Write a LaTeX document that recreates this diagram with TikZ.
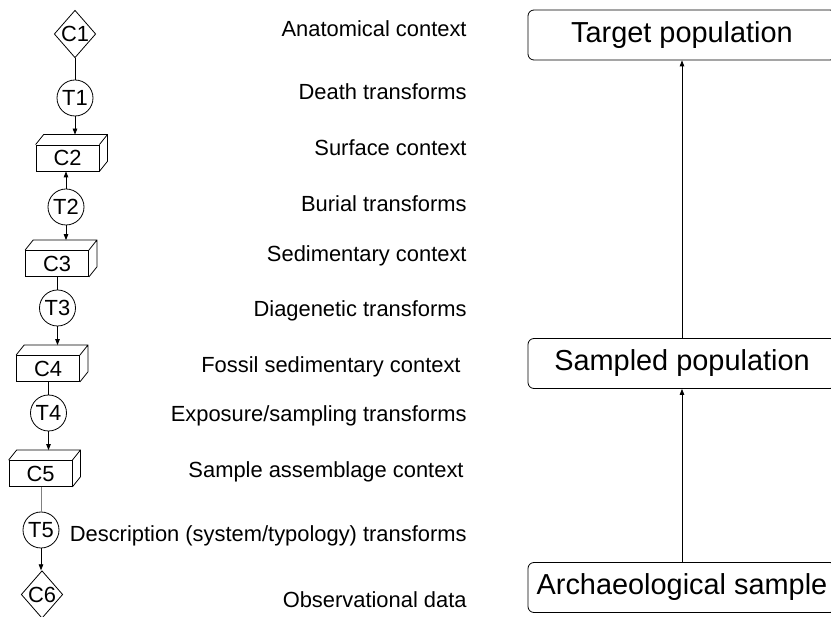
\documentclass[tikz,border=0pt]{standalone}
\usepackage{fontspec}
\setmainfont{Liberation Sans}
\usetikzlibrary{arrows.meta,shapes.geometric}
\tikzset{
  fd/.style={x=1pt, y=-1pt, >={Triangle[length=6pt,width=4.5pt]}, line width=0.8pt,
             every node/.style={font=\fontsize{21.9}{26}\selectfont, inner sep=0pt}},
  ctx/.style={draw, diamond, aspect=0.875},
  slab/.style={draw, fill=white, minimum width=63pt, minimum height=26pt},
  tfm/.style={draw, circle, minimum size=36pt},
  pop/.style={draw, rounded corners=6pt, minimum width=308pt, minimum height=50pt, font=\fontsize{28.9}{34}\selectfont},
  lab/.style={anchor=base east},
  rear/.style={shift={(8,-10)}}
}

\begin{document}
\begin{tikzpicture}[fd]
\useasboundingbox (0,0) rectangle (831,617);
\clip (0,0) rectangle (831,617);
\node[ctx] (c1) at (75,34) {C1};
\node[tfm] (t1) at (75,98) {T1};
\node[slab] (c2) at (67.5,158) {C2};
\node[tfm] (t2) at (66,207) {T2};
\node[slab] (c3) at (57,263.5) {C3};
\node[tfm] (t3) at (57.5,308) {T3};
\node[slab] (c4) at (48,368.5) {C4};
\node[tfm] (t4) at (48.5,413) {T4};
\node[slab] (c5) at (40.5,473.5) {C5};
\node[tfm] (t5) at (41,530) {T5};
\node[ctx] (c6) at (42,594.5) {C6};
\foreach \n in {c2,c3,c4,c5}{
  \draw (\n.north west) -- ([rear]\n.north west) -- ([rear]\n.north east) -- ([rear]\n.south east) -- (\n.south east)
        (\n.north east) -- ([rear]\n.north east);
  \coordinate (\n-top) at ([rear]\n.north);
}
\draw (c1.south) -- (t1.north);
\draw[->] (t1.south) -- (t1.south |- c2-top);
\draw[->] (t2.north) -- (t2.north |- c2.south);
\draw[->] (t2.south) -- (t2.south |- c3-top);
\draw (t3.north |- c3.south) -- (t3.north);
\draw[->] (t3.south) -- (t3.south |- c4-top);
\draw (t4.north |- c4.south) -- (t4.north);
\draw[->] (t4.south) -- (t4.south |- c5-top);
\draw[gray] (t5.north |- c5.south) -- (t5.north);
\draw[->] (t5.south) -- (t5.south |- c6.north);

\node[lab] (lc1) at (467,37) {Anatomical context};
\node[lab] (lt1) at (467,100) {Death transforms};
\node[lab] (lc2) at (467,156) {Surface context};
\node[lab] (lt2) at (467,212) {Burial transforms};
\node[lab] (lc3) at (467,262) {Sedimentary context};
\node[lab] (lt3) at (467,317) {Diagenetic transforms};
\node[lab] (lc4) at (461,373) {Fossil sedimentary context};
\node[lab] (lt4) at (467,422) {Exposure/sampling transforms};
\node[lab] (lc5) at (464,478) {Sample assemblage context};
\node[lab] (lt5) at (467,542) {Description (system/typology) transforms};
\node[lab] (lc6) at (467,608) {Observational data};

\node[pop] (target) at (682,35) {Target population};
\node[pop] (sampled) at (682,363.5) {Sampled population};
\node[pop] (archsample) at (682,587.5) {Archaeological sample};
\draw[->] (sampled.north) -- (target.south);
\draw[->] (archsample.north) -- (sampled.south);
\end{tikzpicture}
\end{document}
